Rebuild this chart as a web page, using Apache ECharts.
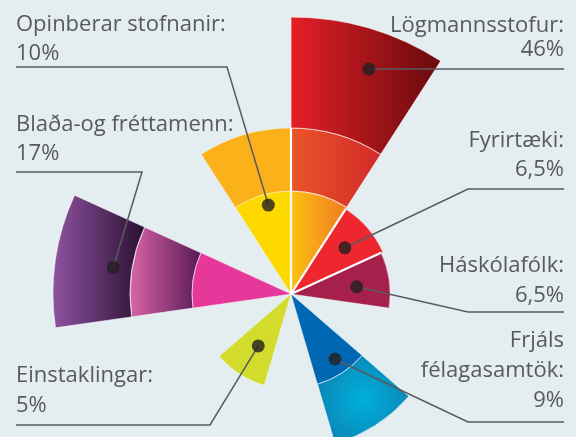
<!DOCTYPE html>
<html>
<head>
<meta charset="utf-8">
<script src="https://cdn.jsdelivr.net/npm/echarts@6/dist/echarts.min.js"></script>
<style>
  html, body { margin: 0; padding: 0; background: #e4edef; }
  #chart { width: 576px; height: 437px; }
</style>
</head>
<body>
<div id="chart"></div>
<script>
// 11 equal slices, clockwise from 12 o'clock; the gap slots stay empty
const slots = ['Lögmannsstofur', 'Fyrirtæki', 'Háskólafólk', 'gap1', 'Frjáls félagasamtök', 'gap2',
  'Einstaklingar', 'gap3', 'Blaða-og fréttamenn', 'gap4', 'Opinberar stofnanir']
// outer edge of each ring
const ring1 = [103, 101, 99, null, 94, null, 95, null, 99, null, 103]
const ring2 = [166, null, null, null, 156, null, null, null, 161, null, 166]
const ring3 = [277, null, null, null, null, null, null, null, 238, null, null]
const maxRadius = 277

// callouts
const labelNames = ['Lögmannsstofur:', 'Fyrirtæki:', 'Háskólafólk:', 'Frjáls\nfélagasamtök:', 'Einstaklingar:', 'Blaða-og fréttamenn:', 'Opinberar stofnanir:']
const labelPercents = ['46%', '6,5%', '6,5%', '9%', '5%', '17%', '10%']
// marker dots: radius and angle (degrees clockwise from top)
const dotRadius = [238, 71, 66, 78.5, 61.4, 179.7, 91.8]
const dotAngle = [19.1, 49.4, 83.7, 145.9, 212.2, 278.5, 345.7]

const grad = (a, b) => new echarts.graphic.LinearGradient(0, 0, 1, 0, [
  {offset: 0, color: a}, {offset: 1, color: b}
])
const ring1Colors = [grad('#fcc212', '#f07a22'), '#ee262e', '#a5214b', null, '#0068b3', null,
  '#d3db2c', null, '#e6379a', null, '#fdd900']
const ring2Colors = [grad('#ea5528', '#d3292a'), null, null, null,
  new echarts.graphic.RadialGradient(0.5, 0.5, 0.6, [
    {offset: 0, color: '#00b0dc'}, {offset: 1, color: '#0b82b2'}
  ]), null, null, null, grad('#d865a8', '#581855'), null, '#fbb11a']
const ring3Colors = [grad('#e41f26', '#680a0e'), null, null, null, null, null, null, null,
  grad('#8f53a1', '#2a1030'), null, null]

// label layout: side, anchor x, line centres, underline y, elbow x
const layout = [
  {align: 'right', x: 564, ys: [26, 50], line: null},
  {align: 'right', x: 564, ys: [141, 170], line: 189, elbow: 468},
  {align: 'right', x: 564, ys: [266, 296], line: 312, elbow: 468},
  {align: 'right', x: 564, ys: [341, 371, 401], line: 422, elbow: 468},
  {align: 'left', x: 16, ys: [376, 406], line: 425, elbow: 210},
  {align: 'left', x: 16, ys: [125, 154], line: 172, elbow: 142},
  {align: 'left', x: 16, ys: [25, 54], line: 67, elbow: 227}
]

const textColor = '#58595b'
const font = '22px "Open Sans"'
const center = [291, 294]

function ringSeries(edges, lower, colors, name) {
  return {
    type: 'bar',
    name,
    coordinateSystem: 'polar',
    polarIndex: 0,
    stack: 'rings',
    barCategoryGap: '0%',
    silent: true,
    itemStyle: {borderColor: 'rgba(255,255,255,0.45)', borderWidth: 0.8},
    data: edges.map((v, i) => v == null ? null : {
      value: v - (lower ? lower[i] : 0),
      itemStyle: {color: colors[i]}
    })
  }
}

// white spokes between neighbouring filled slices
const totals = slots.map((s, i) => ring3[i] || ring2[i] || ring1[i] || 0)
const step = 360 / slots.length
const spokes = []
totals.forEach((t, i) => {
  const next = totals[(i + 1) % slots.length]
  if (t && next) {
    const a = (i + 1) * step % 360
    spokes.push({
      type: 'line',
      coordinateSystem: 'polar',
      polarIndex: 1,
      symbol: 'none',
      silent: true,
      z: 3,
      lineStyle: {color: '#ffffff', width: 2.2},
      data: [[0, a], [Math.min(t, next), a]]
    })
  }
})

const chart = echarts.init(document.getElementById('chart'))
const series = [
  ringSeries(ring1, null, ring1Colors, 'ring1'),
  ringSeries(ring2, ring1, ring2Colors, 'ring2'),
  ringSeries(ring3, ring2, ring3Colors, 'ring3'),
  ...spokes,
  {
    type: 'scatter',
    coordinateSystem: 'polar',
    polarIndex: 1,
    symbolSize: 13,
    z: 10,
    silent: true,
    itemStyle: {color: '#231f20'},
    data: dotRadius.map((r, i) => [r, dotAngle[i]])
  }
]
const dotSeriesIndex = series.length - 1

const hidden = {
  axisLine: {show: false},
  axisTick: {show: false},
  axisLabel: {show: false},
  splitLine: {show: false}
}

chart.setOption({
  backgroundColor: '#e4edef',
  animation: false,
  polar: [
    {center, radius: maxRadius},
    {center, radius: maxRadius}
  ],
  angleAxis: [
    {polarIndex: 0, type: 'category', data: slots, startAngle: 90, clockwise: true, ...hidden},
    {polarIndex: 1, type: 'value', min: 0, max: 360, startAngle: 90, clockwise: true, ...hidden}
  ],
  radiusAxis: [
    {polarIndex: 0, type: 'value', min: 0, max: maxRadius, ...hidden},
    {polarIndex: 1, type: 'value', min: 0, max: maxRadius, ...hidden}
  ],
  series
})

// callout texts and leader lines, joined to the dots through the polar scale
const graphic = []
layout.forEach((l, i) => {
  const lines = labelNames[i].split('\n').concat(labelPercents[i])
  lines.forEach((t, j) => {
    graphic.push({
      type: 'text',
      x: l.x,
      y: l.ys[j],
      z: 6,
      silent: true,
      style: {text: t, font, fill: textColor, textAlign: l.align, textVerticalAlign: 'middle'}
    })
  })
  const dot = chart.convertToPixel({seriesIndex: dotSeriesIndex}, [dotRadius[i], dotAngle[i]])
  const points = l.line == null
    ? [dot, [l.x, dot[1]]]
    : [[l.x, l.line], [l.elbow, l.line], dot]
  graphic.push({
    type: 'polyline',
    z: 5,
    silent: true,
    shape: {points},
    style: {stroke: '#5a5b5d', lineWidth: 1.5, fill: null}
  })
})
chart.setOption({graphic})
</script>
</body>
</html>
